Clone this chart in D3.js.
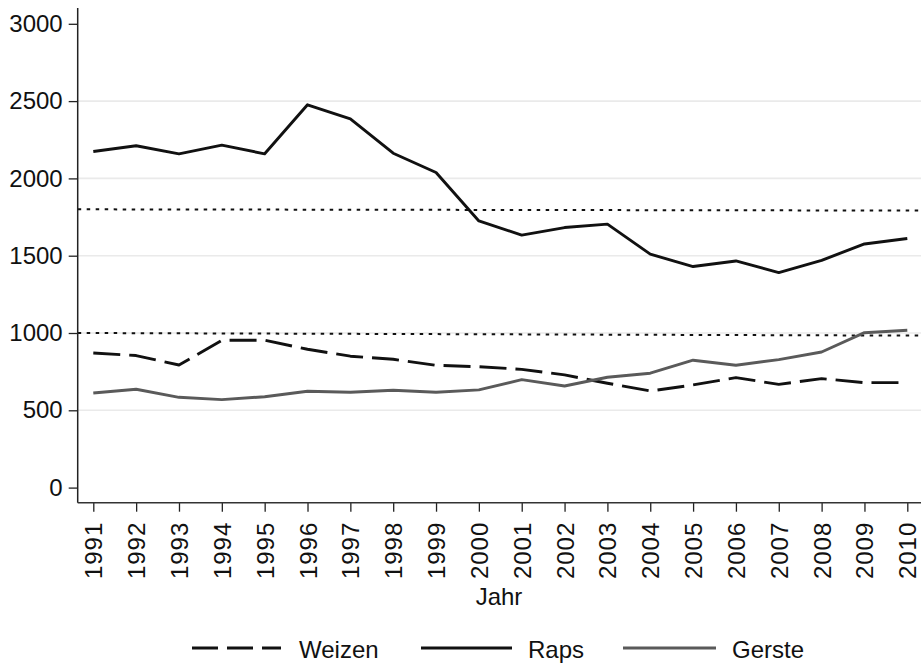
<!DOCTYPE html>
<html>
<head>
<meta charset="utf-8">
<script src="https://cdn.jsdelivr.net/npm/d3@7"></script>
<style>
  html, body { margin: 0; padding: 0; background: #fff; }
  svg { display: block; font-family: "Liberation Sans", Arial, Helvetica, sans-serif; }
</style>
</head>
<body>
<svg id="chart" width="921" height="663"></svg>
<script>
// ---- data ----
const years = [1991,1992,1993,1994,1995,1996,1997,1998,1999,2000,2001,2002,2003,2004,2005,2006,2007,2008,2009,2010];
const weizen = [871,854,793,953,953,895,850,830,791,782,765,729,675,625,664,711,668,705,679,679];
const raps   = [2174,2211,2159,2215,2159,2476,2385,2163,2038,1725,1633,1682,1704,1510,1430,1466,1391,1470,1576,1611];
const gerste = [612,636,584,569,588,623,617,630,617,632,698,657,714,740,824,791,828,877,1002,1018];
const yTicks = [0,500,1000,1500,2000,2500,3000];
const gridValues = [500,1000,1500,2000,2500];
const refLineStart = [1800, 1000];
const refLineEnd   = [1792, 983];
const seriesNames = ["Weizen","Raps","Gerste"];
const xTitle = "Jahr";

// ---- layout ----
const svg = d3.select("#chart");
const axisX0 = 77.7, axisX1 = 921, axisY = 502.7;
const x = d3.scaleLinear().domain([1991, 2010]).range([93.3, 907.3]);
const y = d3.scaleLinear().domain([0, 3000]).range([487.6, 23.8]);

// grid
svg.append("g").selectAll("line").data(gridValues).join("line")
  .attr("x1", axisX0).attr("x2", axisX1)
  .attr("y1", d => y(d)).attr("y2", d => y(d))
  .attr("stroke", "#eaeaea").attr("stroke-width", 1.6);

// reference dotted lines
const refs = refLineStart.map((s, i) => ({s, e: refLineEnd[i]}));
const xLeftVal = x.invert(axisX0), xRightVal = x.invert(axisX1);
svg.append("g").selectAll("line").data(refs).join("line")
  .attr("x1", x(xLeftVal)).attr("x2", x(xRightVal))
  .attr("y1", d => y(d.s)).attr("y2", d => y(d.e))
  .attr("stroke", "#111").attr("stroke-width", 2)
  .attr("stroke-dasharray", "3.5,5.5");

// y axis
const yAxis = d3.axisLeft(y).tickValues(yTicks).tickSize(9).tickPadding(6).tickFormat(d3.format("d"));
const gy = svg.append("g").attr("transform", `translate(${axisX0},0)`).call(yAxis);
gy.select(".domain").remove();
gy.selectAll(".tick line").attr("stroke", "#222").attr("stroke-width", 1.3);
gy.selectAll(".tick text").attr("font-size", 24).attr("fill", "#111")
  .attr("font-family", "Liberation Sans, Arial, sans-serif");
svg.append("line").attr("x1", axisX0).attr("x2", axisX0).attr("y1", 8).attr("y2", axisY)
  .attr("stroke", "#222").attr("stroke-width", 1.5);

// x axis
const xAxis = d3.axisBottom(x).tickValues(years).tickSize(9).tickFormat(d3.format("d"));
const gx = svg.append("g").attr("transform", `translate(0,${axisY})`).call(xAxis);
gx.select(".domain").remove();
gx.selectAll(".tick line").attr("stroke", "#222").attr("stroke-width", 1.3);
gx.selectAll(".tick text")
  .attr("font-size", 24).attr("fill", "#111")
  .attr("font-family", "Liberation Sans, Arial, sans-serif")
  .attr("text-anchor", "end")
  .attr("dy", null).attr("y", null)
  .attr("transform", "translate(8.5,19) rotate(-90)")
  .style("letter-spacing", "1px");
svg.append("line").attr("x1", axisX0).attr("x2", axisX1).attr("y1", axisY).attr("y2", axisY)
  .attr("stroke", "#333").attr("stroke-width", 1.5);

svg.append("text").attr("x", 499).attr("y", 605).text(xTitle)
  .attr("text-anchor", "middle").attr("font-size", 24).attr("fill", "#111");

// series
const line = d3.line().x((d, i) => x(years[i])).y(d => y(d));
const styles = [
  {data: weizen, color: "#111", dash: "27,9"},
  {data: raps, color: "#111", dash: null},
  {data: gerste, color: "#5a5a5a", dash: null}
];
svg.append("g").selectAll("path").data(styles).join("path")
  .attr("d", d => line(d.data))
  .attr("fill", "none")
  .attr("stroke", d => d.color)
  .attr("stroke-width", 2.9)
  .attr("stroke-linejoin", "round")
  .attr("stroke-dasharray", d => d.dash);

// legend
const legendY = 648;
const legendItems = [
  {name: seriesNames[0], x0: 192, x1: 281, tx: 299, color: "#111", dash: "26,9"},
  {name: seriesNames[1], x0: 421, x1: 512, tx: 528, color: "#111", dash: null},
  {name: seriesNames[2], x0: 623, x1: 716, tx: 732, color: "#5a5a5a", dash: null}
];
const lg = svg.append("g").selectAll("g").data(legendItems).join("g");
lg.append("line").attr("x1", d => d.x0).attr("x2", d => d.x1)
  .attr("y1", legendY).attr("y2", legendY)
  .attr("stroke", d => d.color).attr("stroke-width", 2.9)
  .attr("stroke-dasharray", d => d.dash);
lg.append("text").attr("x", d => d.tx).attr("y", legendY + 9.5)
  .text(d => d.name).attr("font-size", 24).attr("fill", "#111");
</script>
</body>
</html>
